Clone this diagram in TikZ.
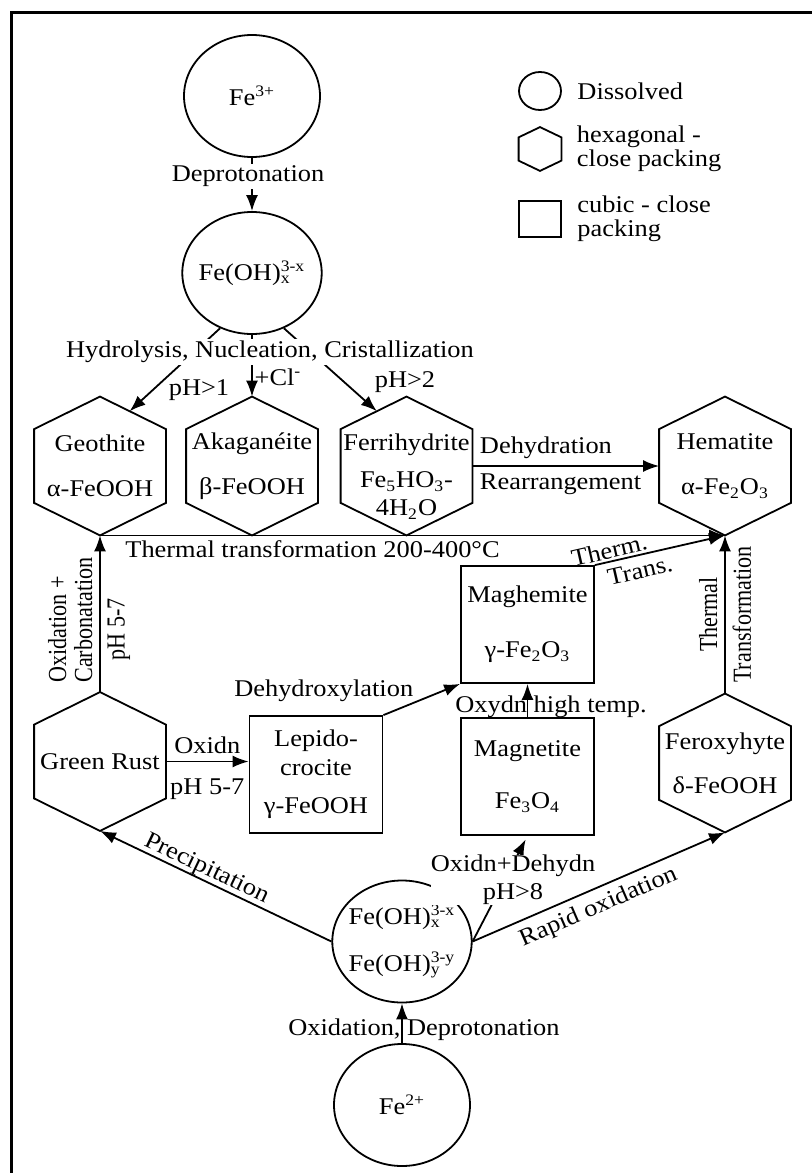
\documentclass[tikz,border=0pt]{standalone}
\usepackage{fontspec}
\setmainfont{Liberation Serif}[FakeStretch=1.1]
\newfontfamily\vertfont{Liberation Serif}[FakeStretch=0.85]
\usetikzlibrary{shapes.geometric,arrows.meta,positioning,calc}
\newcommand{\supsub}[2]{\rlap{\textsubscript{#2}}\textsuperscript{#1}}

\begin{document}
\begin{tikzpicture}[x=0.5pt,y=-0.5pt,line width=0.9pt,
  font=\fontsize{12}{14}\selectfont,
  >={Latex[length=8pt,width=6pt]},
  dissolved/.style={ellipse,draw,minimum width=68pt,minimum height=61pt,inner xsep=-2pt,inner ysep=0pt,align=center},
  hexa/.style={minimum width=65pt,minimum height=68.5pt,inner sep=0pt,align=center},
  cubic/.style={rectangle,draw,minimum width=66.5pt,minimum height=58.5pt,inner sep=0pt,align=center},
  vlabel/.style={font=\fontsize{13}{13}\vertfont}]

\useasboundingbox (0,0) rectangle (811,1173);
\draw[line width=1.5pt] (11,1180) -- (11,12) -- (815,12);

\node at (540,91) [dissolved,minimum width=21pt,minimum height=19pt] (leg1) {};
\node at (540,149) [hexa,minimum width=20.5pt,minimum height=21pt] (leg2) {};
\node at (540,219) [cubic,minimum width=21pt,minimum height=18pt] (leg3) {};
\node[right=4pt of leg1] (leg1t) {Dissolved};
\node[right=4pt of leg2,align=left] (leg2t) {hexagonal -\\[-2pt]close packing};
\node[right=4pt of leg3,align=left] (leg3t) {cubic - close\\[-2pt]packing};

\node at (252,96) [dissolved] (fe3) {Fe\textsuperscript{3+}};
\node at (252,273) [dissolved] (fehx) {Fe(OH)\supsub{3-x}{x}};

\node at (100,466) [hexa] (geo) {Geothite\\[8.5pt]α-FeOOH};
\node at (252,466) [hexa] (aka) {Akaganéite\\[8.5pt]β-FeOOH};
\node at (406.5,466) [hexa] (fer) {\rule{0pt}{19pt}Ferrihydrite\\[4.5pt]Fe\textsubscript{5}HO\textsubscript{3}-\\4H\textsubscript{2}O};
\node at (725,466) [hexa] (hem) {Hematite\\[8.5pt]α-Fe\textsubscript{2}O\textsubscript{3}};
\node at (100,761.5) [hexa] (gre) {Green Rust};
\node at (725,763) [hexa] (fex) {Feroxyhyte\\[8pt]δ-FeOOH};

\node at (316,774.5) [cubic] (lep) {Lepido-\\[0.5pt]crocite\\[5pt]γ-FeOOH};
\node at (527.5,624.5) [cubic] (mgh) {Maghemite\\[13.5pt]γ-Fe\textsubscript{2}O\textsubscript{3}};
\node at (527.5,776.5) [cubic] (mag) {Magnetite\\[12pt]Fe\textsubscript{3}O\textsubscript{4}};

\node at (402,941.5) [dissolved] (fehxy) {Fe(OH)\supsub{3-x}{x}\\[9.5pt]Fe(OH)\supsub{3-y}{y}};
\node at (402,1105) [dissolved] (fe2) {Fe\textsuperscript{2+}};

\foreach \h in {leg2,geo,aka,fer,hem,gre,fex} {
  \coordinate (\h-ne) at ($(\h.north east)!0.234!(\h.south east)$);
  \coordinate (\h-se) at ($(\h.south east)!0.234!(\h.north east)$);
  \coordinate (\h-sw) at ($(\h.south west)!0.234!(\h.north west)$);
  \coordinate (\h-nw) at ($(\h.north west)!0.234!(\h.south west)$);
  \draw (\h.north) -- (\h-ne) -- (\h-se) -- (\h.south) -- (\h-sw) -- (\h-nw) -- cycle;
}

\draw[->] (fe3) -- (fehx);
\node at (248,176) [fill=white,inner sep=1pt] (dep) {Deprotonation};

\draw[->] (fehx.-120) -- ($(geo.north)!0.45!(geo-ne)$);
\draw[->] (fehx) -- (aka.north);
\draw[->] (fehx.-60) -- ($(fer.north)!0.45!(fer-nw)$);
\node at (270,352) [fill=white,inner sep=1pt] (hyd) {Hydrolysis, Nucleation, Cristallization};
\node at (278,377) (clm) {+Cl\textsuperscript{-}};
\node at (199,390) (ph1) {pH>1};
\node at (405,382) (ph2) {pH>2};

\draw[->] (fer) -- (hem) node[above right,pos=0] (dhy) {Dehydration}
  node[below right,pos=0] (rea) {Rearrangement};
\draw[->] (geo.south) -- (hem.south)
  node[below,pos=0.34,inner sep=2pt] (tt) {Thermal transformation 200-400°C};

\draw[->] (gre.north) -- (geo.south)
  node[vlabel,above,sloped,pos=0.46,align=left] (oc) {Oxidation +\\Carbonatation}
  node[vlabel,below,sloped,pos=0.4] (ph57a) {pH 5-7};
\draw[->] (gre.east) -- (gre.east -| lep.west) node[midway,above] (oxn) {Oxidn}
  node[midway,below,yshift=-5pt] (ph57b) {pH 5-7};
\draw[->] (lep.north east) -- (mgh.south west)
  node[pos=0.4,anchor=south east,inner sep=0pt] (dhx) {Dehydroxylation};
\draw[->] (mag) -- (mgh);
\node at (551,707) (oht) {Oxydn high temp.};
\draw[->] (mgh.north east) -- (hem.south) node[pos=0.13,above,sloped,inner sep=1pt] (thm) {Therm.}
  node[pos=0.32,below,sloped] (trs) {Trans.};
\draw[->] (fex.north) -- (hem.south) node[vlabel,midway,above,sloped] (thl) {Thermal}
  node[vlabel,midway,below,sloped] (tfm) {Transformation};

\draw[->,shorten >=2pt] (fehxy.east) -- (mag.south);
\node at (513,880) [fill=white,inner sep=0pt,align=center] (odh) {Oxidn+Dehydn\\pH>8};
\draw[<-] (gre.south) -- (fehxy.west) node[pos=0.44,above,sloped,inner sep=0pt] (pre) {Precipitation};
\draw[->] (fehxy.east) -- (fex.south) node[pos=0.47,below,sloped] (rox) {Rapid oxidation};

\draw[->] (fe2) -- (fehxy);
\node at (424,1030) (odp) {Oxidation, Deprotonation};

\end{tikzpicture}
\end{document}
